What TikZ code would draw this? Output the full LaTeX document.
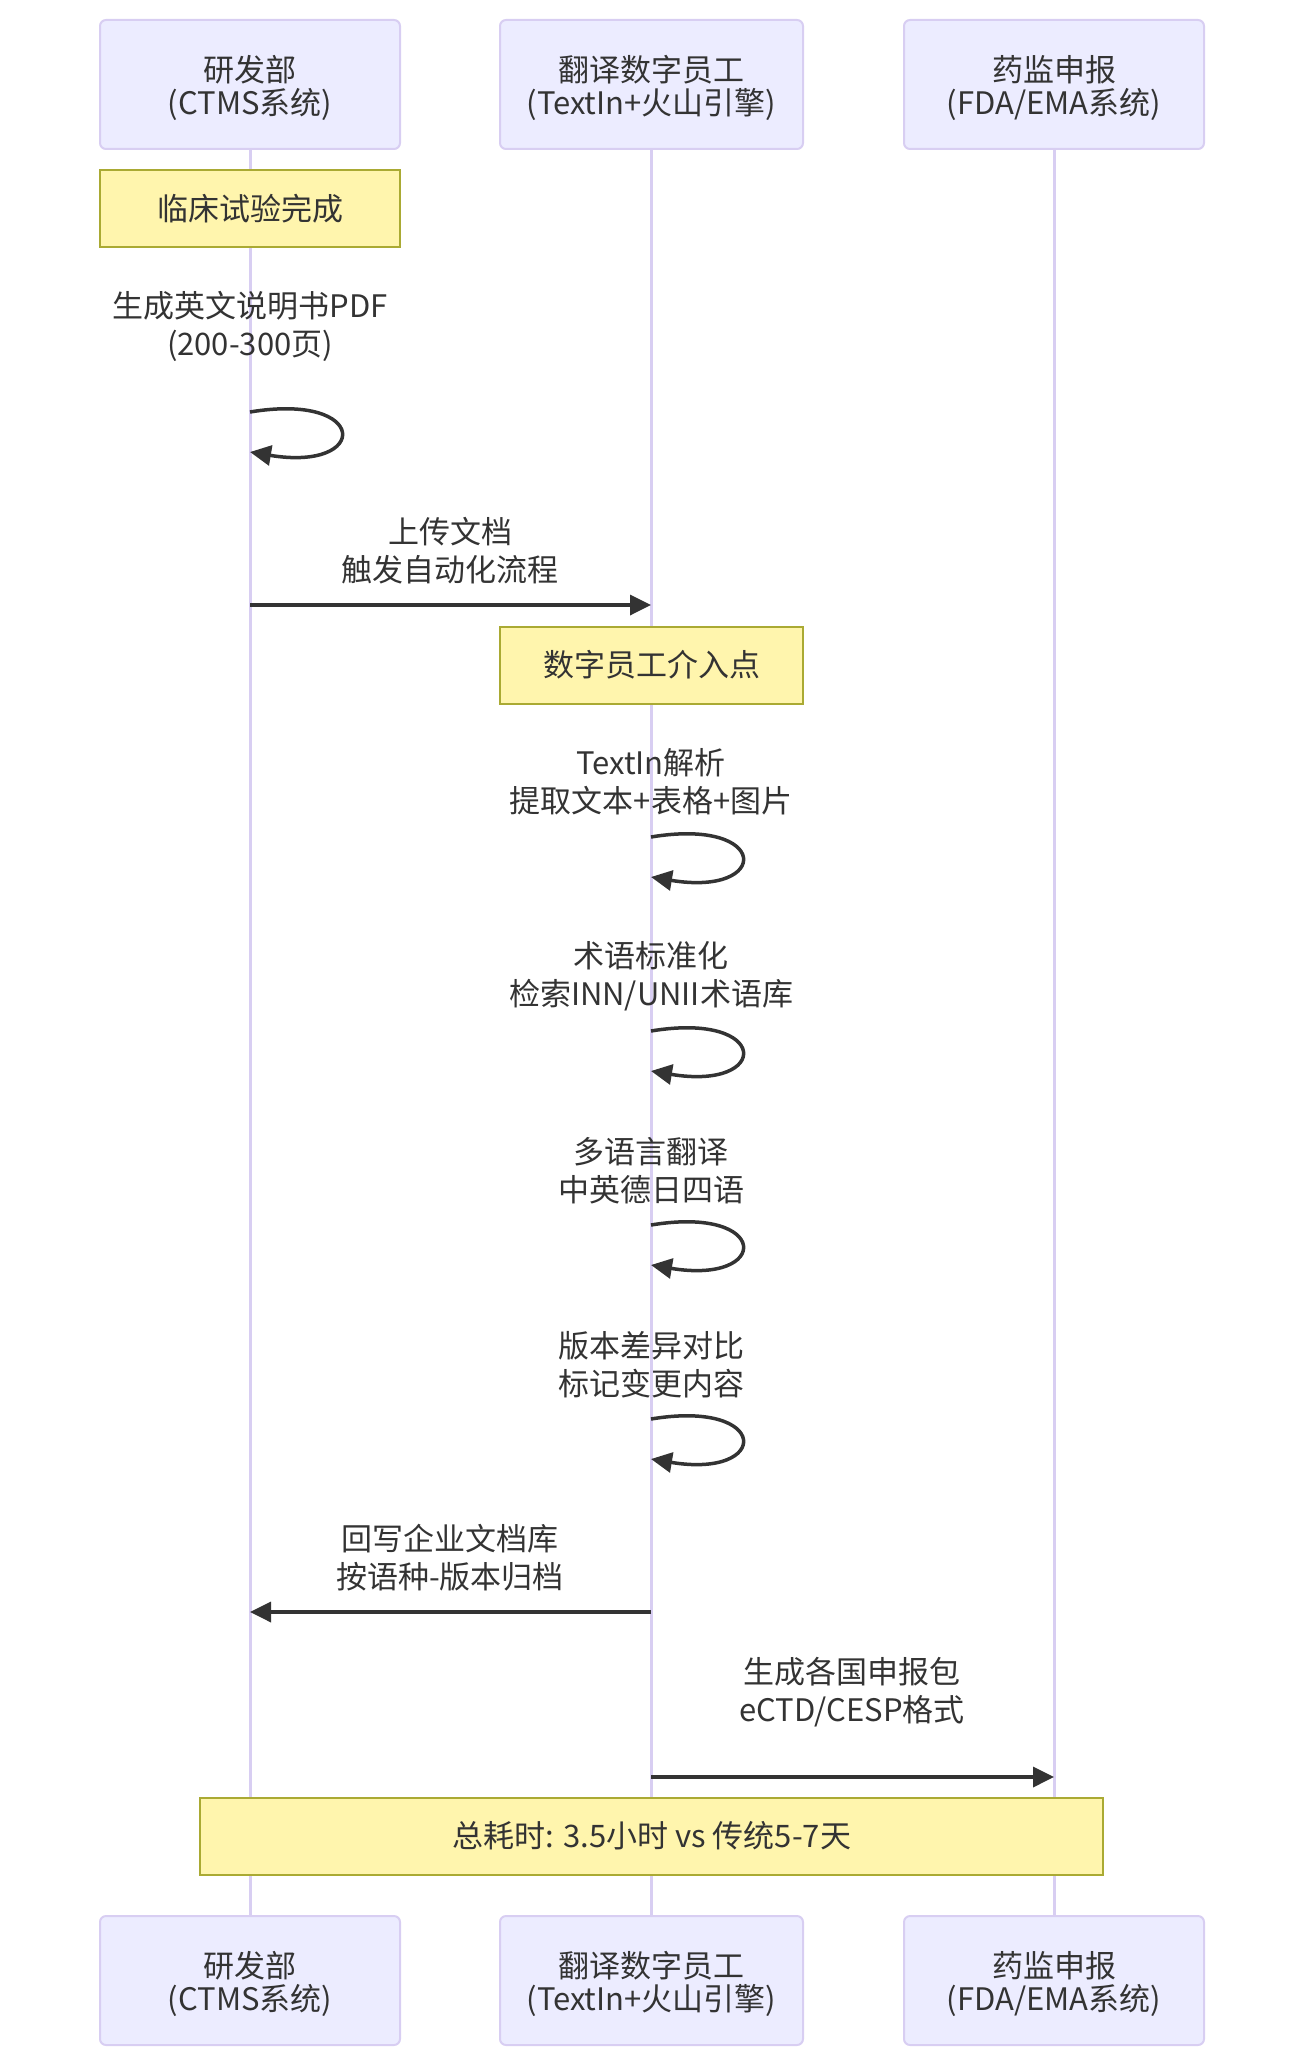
\documentclass[tikz,border=0pt]{standalone}
\usepackage{fontspec}
\setmainfont{Noto Sans CJK SC}
\usetikzlibrary{arrows.meta,backgrounds,calc}
\definecolor{actfill}{HTML}{ECECFF}
\definecolor{actline}{HTML}{D8CEF2}
\definecolor{notefill}{HTML}{FFF5AD}
\definecolor{noteline}{HTML}{AAAA33}
\definecolor{ink}{HTML}{333333}
\begin{document}
\begin{tikzpicture}[x=1pt,y=-1pt,
  actor/.style={draw=actline, line width=2pt, fill=actfill, rounded corners=6pt,
    minimum height=129pt, inner sep=0pt},
  acttext/.style={align=center, text=ink, inner sep=0pt,
    font=\fontsize{31}{33}\selectfont},
  note/.style={draw=noteline, line width=2pt, fill=notefill,
    minimum height=77pt, align=center, text=ink, inner sep=0pt,
    font=\fontsize{31}{38}\selectfont},
  lbl/.style={align=center, text=ink, inner sep=0pt, font=\fontsize{31}{38}\selectfont},
  life/.style={draw=actline, line width=3pt},
  msg/.style={draw=ink, line width=3.5pt, -{Triangle[length=21pt,width=20pt]}}
]
\useasboundingbox (0,0) rectangle (1304,2068);

% actors top
\node[actor, minimum width=300pt] (a1) at (250,84.5) {};
\node[actor, minimum width=303pt] (a2) at (651.5,84.5) {};
\node[actor, minimum width=300pt] (a3) at (1054,84.5) {};
\node[acttext] (a1t) at ([yshift=-3.5pt]a1.center) {研发部\\(CTMS系统)};
\node[acttext] (a2t) at ([yshift=-3.5pt]a2.center) {翻译数字员工\\(TextIn+火山引擎)};
\node[acttext] (a3t) at ([yshift=-3.5pt]a3.center) {药监申报\\(FDA/EMA系统)};
% actors bottom
\node[actor, minimum width=300pt] (b1) at (250,1980.5) {};
\node[actor, minimum width=303pt] (b2) at (651.5,1980.5) {};
\node[actor, minimum width=300pt] (b3) at (1054,1980.5) {};
\node[acttext] (b1t) at ([yshift=-3.5pt]b1.center) {研发部\\(CTMS系统)};
\node[acttext] (b2t) at ([yshift=-3.5pt]b2.center) {翻译数字员工\\(TextIn+火山引擎)};
\node[acttext] (b3t) at ([yshift=-3.5pt]b3.center) {药监申报\\(FDA/EMA系统)};

\begin{pgfonlayer}{background}
\draw[life] (a1.south) -- (b1.north);
\draw[life] (a2.south) -- (b2.north);
\draw[life] (a3.south) -- (b3.north);
\end{pgfonlayer}

% notes
\node[note, minimum width=300pt] (n1) at (250,209) {临床试验完成};
\node[note, minimum width=303pt] (n2) at (651.5,665) {数字员工介入点};
\node[note, minimum width=903pt] (n3) at (651.75,1836) {总耗时: 3.5小时 vs 传统5-7天};

% labels
\node[lbl] (l1) at (250,326.5) {生成英文说明书PDF\\(200-300页)};
\node[lbl] (l2) at (450,550.5) {上传文档\\触发自动化流程};
\node[lbl] (l3) at (651,782) {TextIn解析\\提取文本+表格+图片};
\node[lbl] (l4) at (651,976.5) {术语标准化\\检索INN/UNII术语库};
\node[lbl] (l5) at (651,1171) {多语言翻译\\中英德日四语};
\node[lbl] (l6) at (651,1365) {版本差异对比\\标记变更内容};
\node[lbl] (l7) at (450,1558) {回写企业文档库\\按语种-版本归档};
\node[lbl] (l8) at (852,1692.5) {生成各国申报包\\eCTD/CESP格式};

% coordinates
\coordinate (s1a) at (250,412);  \coordinate (s1b) at (250,452);
\coordinate (s3a) at (651,837);  \coordinate (s3b) at (651,877);
\coordinate (s4a) at (651,1031); \coordinate (s4b) at (651,1071);
\coordinate (s5a) at (651,1225); \coordinate (s5b) at (651,1265);
\coordinate (s6a) at (651,1419); \coordinate (s6b) at (651,1459);
\coordinate (m2a) at (250,605);  \coordinate (m2b) at (651,605);
\coordinate (m7a) at (651,1612); \coordinate (m7b) at (250,1612);
\coordinate (m8a) at (651,1777); \coordinate (m8b) at (1054,1777);

% self loops
\foreach \s in {s1,s3,s4,s5,s6}{
  \draw[msg] (\s a) .. controls ($(\s a)+(120,-20)$) and ($(\s a)+(120,60)$) .. (\s b);
}
% messages
\draw[msg] (m2a) -- (m2b);
\draw[msg] (m7a) -- (m7b);
\draw[msg] (m8a) -- (m8b);
\end{tikzpicture}
\end{document}
